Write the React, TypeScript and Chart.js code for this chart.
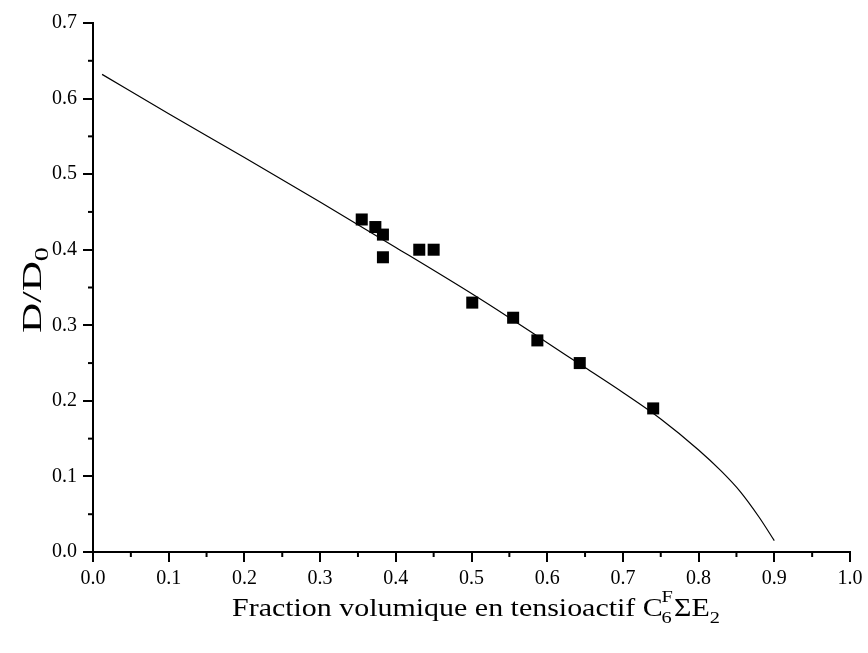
import React, { useEffect, useRef } from "react";
import { Chart, registerables } from "chart.js";

Chart.register(...registerables);

// Measured points (volume fraction, D/D0)
const pointX = [0.355, 0.373, 0.383, 0.383, 0.431, 0.45, 0.501, 0.555, 0.587, 0.643, 0.74];
const pointY = [0.44, 0.43, 0.42, 0.39, 0.4, 0.4, 0.33, 0.31, 0.28, 0.25, 0.19];

// Fitted curve
const fitX = [0.012, 0.1, 0.2, 0.3, 0.4, 0.5, 0.55, 0.6, 0.65, 0.7, 0.75, 0.8, 0.83, 0.855, 0.88, 0.9];
const fitY = [0.632, 0.58, 0.522, 0.463, 0.403, 0.342, 0.31, 0.277, 0.244, 0.211, 0.176, 0.135, 0.107, 0.08, 0.046, 0.015];

const xTitleMain = "Fraction volumique en tensioactif C";
const xTitleSub1 = "6";
const xTitleSup1 = "F";
const xTitleMid = "\u03A3E";
const xTitleSub2 = "2";
const yTitleMain = "D/D";
const yTitleSub = "0";

const FONT = "'Liberation Serif', 'Times New Roman', serif";

const decorPlugin = {
  id: "decor",
  afterDraw(chart: any) {
    const ctx = chart.ctx;
    const xs = chart.scales.x;
    const ys = chart.scales.y;
    const area = chart.chartArea;
    ctx.save();
    ctx.strokeStyle = "#000";
    ctx.lineWidth = 2;
    // minor ticks
    for (let i = 0; i < 10; i++) {
      const v = i * 0.1 + 0.05;
      const px = xs.getPixelForValue(v);
      ctx.beginPath();
      ctx.moveTo(px, area.bottom);
      ctx.lineTo(px, area.bottom + 5);
      ctx.stroke();
    }
    for (let i = 0; i < 7; i++) {
      const v = i * 0.1 + 0.05;
      const py = ys.getPixelForValue(v);
      ctx.beginPath();
      ctx.moveTo(area.left, py);
      ctx.lineTo(area.left - 5, py);
      ctx.stroke();
    }
    ctx.fillStyle = "#000";
    ctx.textBaseline = "alphabetic";
    ctx.textAlign = "left";
    const big = "25px " + FONT;
    const small = "17px " + FONT;

    // x title with sub/superscripts, stretched horizontally like the reference
    ctx.font = big;
    const wMain = ctx.measureText(xTitleMain).width;
    const wMid = ctx.measureText(xTitleMid).width;
    ctx.font = small;
    const wSub1 = Math.max(ctx.measureText(xTitleSub1).width, ctx.measureText(xTitleSup1).width);
    const wSub2 = ctx.measureText(xTitleSub2).width;
    const total = wMain + wSub1 + wMid + wSub2;
    const targetW = 488;
    const sx = targetW / total;
    ctx.save();
    ctx.translate(232, 616);
    ctx.scale(sx, 1);
    let x = 0;
    ctx.font = big;
    ctx.fillText(xTitleMain, x, 0);
    x += wMain;
    ctx.font = small;
    ctx.fillText(xTitleSub1, x - 1, 7);
    ctx.fillText(xTitleSup1, x - 1, -14);
    x += wSub1;
    ctx.font = big;
    ctx.fillText(xTitleMid, x, 0);
    x += wMid;
    ctx.font = small;
    ctx.fillText(xTitleSub2, x, 7);
    ctx.restore();

    // y title
    ctx.save();
    ctx.translate(41, 290);
    ctx.rotate(-Math.PI / 2);
    ctx.font = "28px " + FONT;
    const wy = ctx.measureText(yTitleMain).width;
    ctx.font = "19px " + FONT;
    const wys = ctx.measureText(yTitleSub).width;
    const ty = wy + wys;
    const sy = 86 / ty;
    ctx.scale(sy, 1);
    ctx.font = "28px " + FONT;
    ctx.fillText(yTitleMain, -ty / 2, 0);
    ctx.font = "19px " + FONT;
    ctx.fillText(yTitleSub, -ty / 2 + wy, 7);
    ctx.restore();
    ctx.restore();
  },
};

export default function App() {
  const ref = useRef<HTMLCanvasElement>(null);
  useEffect(() => {
    document.body.style.margin = "0";
    const canvas = ref.current!;
    Chart.defaults.font.family = FONT;
    const chart = new Chart(canvas, {
      type: "scatter",
      data: {
        datasets: [
          {
            type: "line",
            data: fitX.map((v, i) => ({ x: v, y: fitY[i] })),
            borderColor: "#000",
            borderWidth: 1.2,
            pointRadius: 0,
            cubicInterpolationMode: "monotone",
            fill: false,
          },
          {
            data: pointX.map((v, i) => ({ x: v, y: pointY[i] })),
            pointStyle: "rect",
            pointRadius: 8.5,
            backgroundColor: "#000",
            borderColor: "#000",
            borderWidth: 0,
          },
        ],
      },
      options: {
        responsive: false,
        animation: false,
        layout: { padding: { top: 23, right: 18, left: 0, bottom: 0 } },
        plugins: { legend: { display: false }, tooltip: { enabled: false } },
        scales: {
          x: {
            type: "linear",
            min: 0,
            max: 1,
            afterFit: (s: any) => {
              s.height = 101;
            },
            border: { display: true, color: "#000", width: 2 },
            grid: { drawOnChartArea: false, drawTicks: true, tickLength: 10, color: "#000", lineWidth: 2 },
            ticks: {
              stepSize: 0.1,
              color: "#000",
              padding: 5,
              font: { size: 20, family: FONT },
              callback: (v: any) => Number(v).toFixed(1),
            },
          },
          y: {
            type: "linear",
            min: 0,
            max: 0.7,
            afterFit: (s: any) => {
              s.width = 93;
            },
            border: { display: true, color: "#000", width: 2 },
            grid: { drawOnChartArea: false, drawTicks: true, tickLength: 10, color: "#000", lineWidth: 2 },
            ticks: {
              stepSize: 0.1,
              color: "#000",
              padding: 6,
              font: { size: 20, family: FONT },
              callback: (v: any) => Number(v).toFixed(1),
            },
          },
        },
      },
      plugins: [decorPlugin],
    });
    return () => chart.destroy();
  }, []);
  return (
    <div style={{ width: 868, height: 653, background: "#fff" }}>
      <canvas ref={ref} width={868} height={653} />
    </div>
  );
}
